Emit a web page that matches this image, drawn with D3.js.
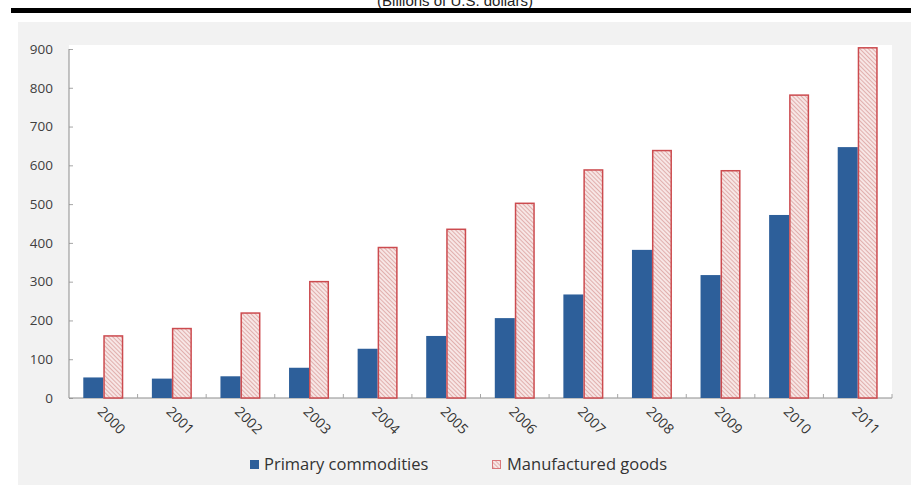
<!DOCTYPE html>
<html>
<head>
<meta charset="utf-8">
<script src="https://cdn.jsdelivr.net/npm/d3@7"></script>
<style>
  html, body { margin: 0; padding: 0; background: #ffffff; }
  svg { display: block; }
</style>
</head>
<body>
<svg id="chart" width="911" height="490"></svg>
<script>
// Exports by product group, billions of U.S. dollars
const years = ["2000","2001","2002","2003","2004","2005","2006","2007","2008","2009","2010","2011"];
const primaryCommodities = [53, 50, 56, 78, 127, 160, 206, 267, 382, 317, 472, 647];
const manufacturedGoods  = [162, 181, 221, 302, 390, 437, 504, 590, 640, 588, 783, 905];
const yTicks = [0, 100, 200, 300, 400, 500, 600, 700, 800, 900];
const seriesNames = ["Primary commodities", "Manufactured goods"];

const svg = d3.select("#chart");
const font = "'Open Sans', 'Noto Sans', sans-serif";

// diagonal hatch pattern for manufactured goods
const defs = svg.append("defs");
const pat = defs.append("pattern")
  .attr("id", "hatch")
  .attr("patternUnits", "userSpaceOnUse")
  .attr("width", 3).attr("height", 3)
  .attr("patternTransform", "rotate(-45)");
pat.append("rect").attr("width", 3).attr("height", 3).attr("fill", "#f7e6e5");
pat.append("line").attr("x1", 0).attr("y1", 0).attr("x2", 0).attr("y2", 3)
  .attr("stroke", "#d28a88").attr("stroke-width", 1.2);

// subtitle, partly hidden above the top edge
svg.append("text")
  .attr("x", 455).attr("y", 6)
  .attr("text-anchor", "middle")
  .attr("font-family", "'Liberation Sans', Arial, sans-serif")
  .attr("font-size", 15)
  .attr("fill", "#222")
  .text("(Billions of U.S. dollars)");

// heavy rule under the subtitle
svg.append("rect").attr("x", 11).attr("y", 8).attr("width", 900).attr("height", 5).attr("fill", "#000");

// chart panel
svg.append("rect").attr("x", 18).attr("y", 22).attr("width", 893).attr("height", 463).attr("fill", "#f2f2f2");

const plot = { left: 69, right: 892, top: 45, bottom: 398 };
svg.append("rect")
  .attr("x", plot.left).attr("y", plot.top)
  .attr("width", plot.right - plot.left).attr("height", plot.bottom - plot.top)
  .attr("fill", "#ffffff");

const x = d3.scaleBand().domain(years).range([plot.left, plot.right]).paddingInner(0).paddingOuter(0);
const y = d3.scaleLinear().domain([0, 900]).range([plot.bottom, 49]);
const barW = 20;

// y axis
const yAxis = svg.append("g")
  .attr("transform", `translate(${plot.left},0)`)
  .call(d3.axisRight(y).tickValues(yTicks).tickSize(4).tickFormat(""));
yAxis.select(".domain").remove();
yAxis.selectAll(".tick line").attr("stroke", "#a6a6a6");
svg.append("line").attr("x1", plot.left).attr("x2", plot.left)
  .attr("y1", y(900)).attr("y2", plot.bottom).attr("stroke", "#8c8c8c");

svg.append("g").selectAll("text").data(yTicks).join("text")
  .attr("x", 53).attr("y", d => y(d)).attr("dy", "0.35em")
  .attr("text-anchor", "end")
  .attr("font-family", font).attr("font-size", 13.5)
  .attr("fill", "#404040")
  .text(d => d);

// x axis with category boundary ticks
svg.append("line").attr("x1", plot.left).attr("x2", plot.right)
  .attr("y1", plot.bottom).attr("y2", plot.bottom).attr("stroke", "#8c8c8c");
const bounds = years.map(d => x(d) + x.bandwidth());
svg.append("g").selectAll("line").data(bounds).join("line")
  .attr("x1", d => d).attr("x2", d => d)
  .attr("y1", plot.bottom).attr("y2", plot.bottom - 4)
  .attr("stroke", "#a6a6a6");

// bars
const center = d => x(d) + x.bandwidth() / 2;
svg.append("g").selectAll("rect").data(years).join("rect")
  .attr("x", d => center(d) - barW)
  .attr("y", (d, i) => y(primaryCommodities[i]))
  .attr("width", barW)
  .attr("height", (d, i) => plot.bottom - y(primaryCommodities[i]))
  .attr("fill", "#2d5f9a");

svg.append("g").selectAll("rect").data(years).join("rect")
  .attr("x", d => center(d) + 0.75)
  .attr("y", (d, i) => y(manufacturedGoods[i]) + 0.75)
  .attr("width", barW - 1.5)
  .attr("height", (d, i) => plot.bottom - y(manufacturedGoods[i]) - 0.75)
  .attr("fill", "url(#hatch)")
  .attr("stroke", "#cc4b4f").attr("stroke-width", 1.5);

// rotated year labels
svg.append("g").selectAll("text").data(years).join("text")
  .attr("transform", d => `translate(${center(d) - 3},${plot.bottom + 11}) rotate(45)`)
  .attr("font-family", font).attr("font-size", 14)
  .attr("fill", "#333333")
  .attr("dy", "0.35em")
  .text(d => d);

// legend
const leg = svg.append("g");
leg.append("rect").attr("x", 250).attr("y", 460).attr("width", 9).attr("height", 9).attr("fill", "#2d5f9a");
leg.append("text").attr("x", 264).attr("y", 470)
  .attr("font-family", font).attr("font-size", 16.5).attr("fill", "#333333")
  .text(seriesNames[0]);
leg.append("rect").attr("x", 492.5).attr("y", 460.5).attr("width", 8).attr("height", 8)
  .attr("fill", "url(#hatch)").attr("stroke", "#d9777a").attr("stroke-width", 1);
leg.append("text").attr("x", 507).attr("y", 470)
  .attr("font-family", font).attr("font-size", 16.5).attr("fill", "#333333")
  .text(seriesNames[1]);
</script>
</body>
</html>
